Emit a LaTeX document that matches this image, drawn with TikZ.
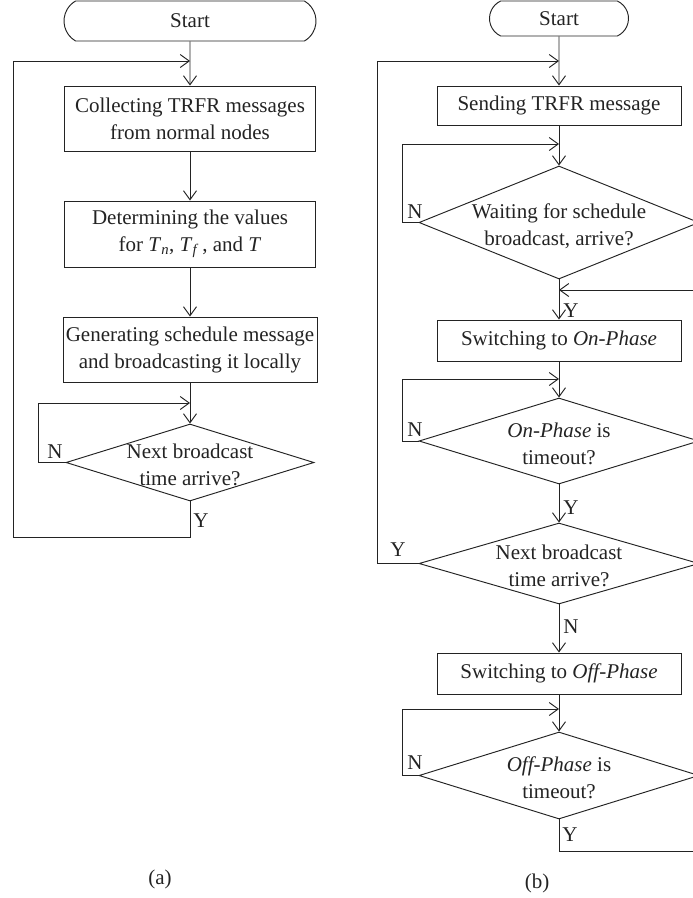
\documentclass[tikz,border=0pt]{standalone}
\usepackage{fontspec}
\setmainfont{Liberation Serif}
\usetikzlibrary{arrows.meta,shapes.geometric,shapes.misc}
\definecolor{ink}{RGB}{35,35,35}
\begin{document}
\begin{tikzpicture}[x=1pt,y=-1pt,
  every node/.style={font=\fontsize{21}{27}\selectfont, inner sep=0pt, text=ink},
  line/.style={line width=0.95pt, draw=ink},
  arr/.style={line, -{Straight Barb[length=9pt,width=13pt,line width=0.95pt]}},
  procbox/.style={draw=ink, line width=0.95pt, rectangle, align=center},
  decision/.style={draw=ink, line width=0.95pt, diamond},
  terminal/.style={draw=ink, line width=0.95pt, rounded rectangle},
  txt/.style={align=center}
]
\clip (0,0) rectangle (693,898);

% ---------------- (a) ----------------
\node[terminal, rounded rectangle arc length=120, minimum width=252pt, minimum height=40pt] (sA) at (190,21) {Start};
\node[procbox, minimum width=251pt, minimum height=65pt] (a1) at (190,118.5) {Collecting TRFR messages\\from normal nodes};
\node[procbox, minimum width=251pt, minimum height=66pt] (a2) at (190,234) {Determining the values\\for \textit{T}\textsubscript{\textit{n}}, \textit{T}\textsubscript{\textit{f}}\,, and \textit{T}};
\node[procbox, minimum width=254pt, minimum height=65pt] (a3) at (190,349.5) {Generating schedule message\\and broadcasting it locally};
\node[decision, minimum width=248pt, minimum height=77pt] (ad) at (190,462.5) {};
\node[txt] (adt) at (190,465) {Next broadcast\\time arrive?};

\coordinate (jA1) at (190,61);
\coordinate (jA2) at (190,403);

\draw[arr] (sA) -- (a1);
\draw[arr] (a1) -- (a2);
\draw[arr] (a2) -- (a3);
\draw[arr] (a3) -- (ad);
\draw[arr] (ad.west) -- ++(-27,0) |- (jA2);
\draw[arr] (ad.south) -- ++(0,36) -- ++(-177,0) |- (jA1);

\node (aN) at (55,452) {N};
\node (aY) at (201,521) {Y};
\node (capA) at (160,879) {(a)};

% ---------------- (b) ----------------
\node[terminal, rounded rectangle arc length=130, minimum width=139pt, minimum height=35pt] (sB) at (559,18.5) {Start};
\node[procbox, minimum width=244pt, minimum height=39pt] (b1) at (559,105.5) {Sending TRFR message};
\node[decision, minimum width=280pt, minimum height=113pt] (d1) at (559,222.5) {};
\node[txt] (d1t) at (559,226) {Waiting for schedule\\broadcast, arrive?};
\node[procbox, minimum width=244pt, minimum height=41pt] (b2) at (559,340.5) {Switching to \textit{On-Phase}};
\node[decision, minimum width=280pt, minimum height=86pt] (d2) at (559,441) {};
\node[txt] (d2t) at (559,444) {\textit{On-Phase} is\\timeout?};
\node[decision, minimum width=280pt, minimum height=81pt] (d3) at (559,563.5) {};
\node[txt] (d3t) at (559,566) {Next broadcast\\time arrive?};
\node[procbox, minimum width=244pt, minimum height=41pt] (b3) at (559,673.5) {Switching to \textit{Off-Phase}};
\node[decision, minimum width=280pt, minimum height=87pt] (d4) at (559,775.5) {};
\node[txt] (d4t) at (559,778) {\textit{Off-Phase} is\\timeout?};

\coordinate (jB1) at (559,61);
\coordinate (jB2) at (559,144);
\coordinate (jB3) at (559,290);
\coordinate (jB4) at (559,379);
\coordinate (jB5) at (559,709);

\draw[arr] (sB) -- (b1);
\draw[arr] (b1) -- (d1);
\draw[arr] (d1.west) -- ++(-16,0) |- (jB2);
\draw[arr] (d1) -- (b2);
\draw[arr] (b2) -- (d2);
\draw[arr] (d2.west) -- ++(-16,0) |- (jB4);
\draw[arr] (d2) -- (d3);
\draw[arr] (d3.west) -- ++(-41,0) |- (jB1);
\draw[arr] (d3) -- (b3);
\draw[arr] (b3) -- (d4);
\draw[arr] (d4.west) -- ++(-16,0) |- (jB5);
\draw[arr] (d4.south) -- ++(0,32) -- ++(151,0) |- (jB3);

\node (d1N) at (415,212) {N};
\node (d1Y) at (571,311) {Y};
\node (d2N) at (415,430) {N};
\node (d2Y) at (571,508) {Y};
\node (d3Y) at (398,550) {Y};
\node (d3N) at (571,627) {N};
\node (d4N) at (415,763) {N};
\node (d4Y) at (570,835) {Y};
\node (capB) at (537,883) {(b)};
\end{tikzpicture}
\end{document}
